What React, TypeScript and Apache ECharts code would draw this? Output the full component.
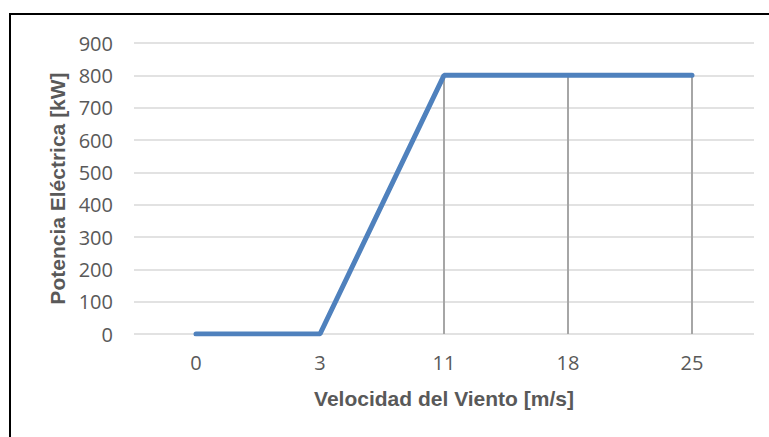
import React, { useEffect, useRef } from "react";
import * as echarts from "echarts";

const categories = ["0", "3", "11", "18", "25"];
const power = [0, 0, 800, 800, 800];
const yTicks = [0, 100, 200, 300, 400, 500, 600, 700, 800, 900];

export default function App() {
  const ref = useRef<HTMLDivElement>(null);
  useEffect(() => {
    const chart = echarts.init(ref.current!, null, { renderer: "svg" });
    const tickFont = { color: "#595959", fontSize: 20, fontFamily: "Open Sans, sans-serif" };
    const nameFont = { color: "#595959", fontSize: 21, fontWeight: "bold", fontFamily: "Liberation Sans, Arial, sans-serif" };
    chart.setOption({
      animation: false,
      backgroundColor: "#ffffff",
      graphic: [
        {
          type: "rect",
          shape: { x: 10, y: 14, width: 780, height: 460 },
          style: { fill: "none", stroke: "#000000", lineWidth: 2 },
          silent: true,
        },
      ],
      grid: { left: 134, right: 15, top: 43, bottom: 103 },
      xAxis: {
        type: "category",
        data: categories,
        boundaryGap: true,
        axisLine: { show: false },
        axisTick: { show: false },
        axisLabel: { ...tickFont, margin: 18 },
        name: "Velocidad del Viento [m/s]",
        nameLocation: "middle",
        nameGap: 54,
        nameTextStyle: nameFont,
      },
      yAxis: {
        type: "value",
        min: yTicks[0],
        max: yTicks[yTicks.length - 1],
        interval: 100,
        axisLine: { show: false },
        axisTick: { show: false },
        splitLine: { lineStyle: { color: "#D9D9D9", width: 1.5 } },
        axisLabel: { ...tickFont, margin: 21 },
        name: "Potencia Eléctrica [kW]",
        nameLocation: "middle",
        nameGap: 63,
        nameTextStyle: nameFont,
      },
      series: [
        {
          type: "bar",
          data: power,
          barWidth: 2,
          itemStyle: { color: "#A6A6A6" },
          z: 1,
          silent: true,
        },
        {
          type: "line",
          data: power,
          showSymbol: false,
          symbol: "none",
          lineStyle: { color: "#4F81BD", width: 5, cap: "round" },
          z: 3,
        },
      ],
    });
    return () => chart.dispose();
  }, []);
  return <div ref={ref} style={{ width: 769, height: 437, position: "absolute", left: 0, top: 0 }} />;
}
